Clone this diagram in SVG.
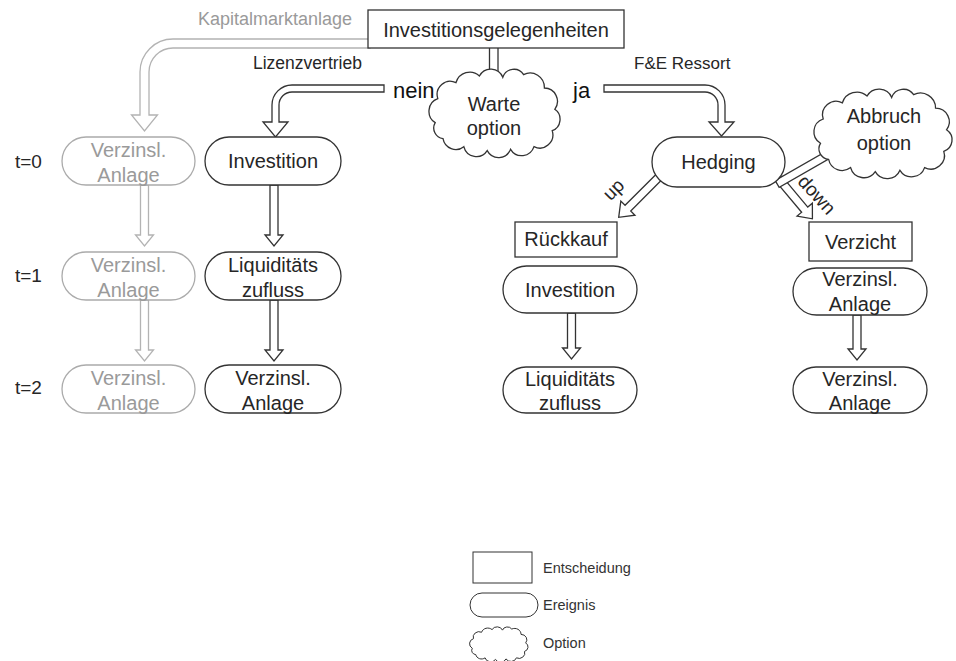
<svg xmlns="http://www.w3.org/2000/svg" width="956" height="661" viewBox="0 0 956 661">
<style>
.node{fill:#fff;stroke:#333;stroke-width:1.3}
.gnode{fill:#fff;stroke:#ababab;stroke-width:1.3}
.arr{fill:#fff;stroke:#333;stroke-width:1.3;stroke-linejoin:miter}
.garr{fill:#fff;stroke:#b3b3b3;stroke-width:1.3}
text{font-family:'Liberation Sans',Arial,sans-serif;fill:#262626}
.t{font-size:20px;text-anchor:middle}
.g{fill:#9a9a9a}
.lbl{font-size:17.5px}
.big{font-size:22px;fill:#111}
.leg{font-size:14.5px;fill:#333}
</style>
<defs>
<path id="cloud" vector-effect="non-scaling-stroke" d="M4,38 A10,10 0 0 1 6,20 A10,10 0 0 1 20,8 A11,11 0 0 1 38,3 A10,10 0 0 1 56,4 A9,9 0 0 1 72,2 A11,11 0 0 1 88,12 A10,10 0 0 1 96,28 A9,9 0 0 1 94,44 A10,10 0 0 1 80,56 A10,10 0 0 1 62,58 A10,10 0 0 1 44,59 A10,10 0 0 1 26,56 A10,10 0 0 1 10,50 A8,8 0 0 1 4,38 Z"/>
</defs>
<rect width="956" height="661" fill="#fff"/>

<g id="connectors">
  <path class="garr" d="M370,39 H173 A33,33 0 0 0 140,72 V115 H131.5 L144.5,131 L157.5,115 H149 V72 A24,24 0 0 1 173,48 H370 Z"/>
  <rect class="arr" x="489.5" y="46" width="8.5" height="38"/>
  <path class="arr" d="M384,85 H292 A20,20 0 0 0 272,105 V122 H263 L275.5,137 L288,122 H279 V105 A13,13 0 0 1 292,92 H384 Z"/>
  <path class="arr" d="M604,85 H705 A20,20 0 0 1 725,105 V122 H734 L721.5,136 L709,122 H718 V105 A13,13 0 0 0 705,92 H604 Z"/>
  <path class="garr" d="M140.5,185 V235 H135.5 L144.5,246 L153.5,235 H148.5 V185 Z"/>
  <path class="garr" d="M140.5,300 V350 H135.5 L144.5,361 L153.5,350 H148.5 V300 Z"/>
  <path class="arr" d="M270,185 V235 H265 L274,246 L283,235 H278 V185 Z"/>
  <path class="arr" d="M270,300 V350 H265 L274,361 L283,350 H278 V300 Z"/>
  <path class="arr" transform="translate(659,177) rotate(45)" d="M-4,0 V44 H-10 L0,57 L10,44 H4 V0 Z"/>
  <path class="arr" transform="translate(779,179) rotate(-40)" d="M-4,0 V40 H-10 L0,52 L10,40 H4 V0 Z"/>
  <rect class="arr" x="-28" y="-4" width="56" height="8" transform="translate(801.5,170) rotate(-29.7)"/>
  <path class="arr" d="M567.5,313 V348 H562.5 L571.5,359 L580.5,348 H575.5 V313 Z"/>
  <path class="arr" d="M853,315 V349 H848 L857,360 L866,349 H861 V315 Z"/>
</g>

<g id="n-investitionsgelegenheiten">
  <rect class="node" x="368" y="10" width="256" height="38"/>
  <text class="t" x="496" y="37">Investitionsgelegenheiten</text>
</g>
<g id="n-warteoption">
  <use href="#cloud" transform="translate(430,72) scale(1.3,1.333)" fill="#fff" stroke="#333" stroke-width="1.3"/>
  <text class="t" x="494" y="111">Warte</text>
  <text class="t" x="494" y="135">option</text>
</g>
<g id="n-abbruchoption">
  <use href="#cloud" transform="translate(815,92) scale(1.37,1.35)" fill="#fff" stroke="#333" stroke-width="1.3"/>
  <text class="t" x="884" y="123">Abbruch</text>
  <text class="t" x="884" y="150">option</text>
</g>

<g id="n-g1"><rect class="gnode" x="62" y="137" width="133" height="48" rx="24"/><text class="t g" x="128.5" y="157">Verzinsl.</text><text class="t g" x="128.5" y="182">Anlage</text></g>
<g id="n-g2"><rect class="gnode" x="62" y="252" width="133" height="48" rx="24"/><text class="t g" x="128.5" y="272">Verzinsl.</text><text class="t g" x="128.5" y="297">Anlage</text></g>
<g id="n-g3"><rect class="gnode" x="62" y="365" width="133" height="48" rx="24"/><text class="t g" x="128.5" y="385">Verzinsl.</text><text class="t g" x="128.5" y="410">Anlage</text></g>

<g id="n-b1"><rect class="node" x="205" y="137" width="136" height="48" rx="24"/><text class="t" x="273" y="168">Investition</text></g>
<g id="n-b2"><rect class="node" x="205" y="252" width="136" height="48" rx="24"/><text class="t" x="273" y="272">Liquiditäts</text><text class="t" x="273" y="297">zufluss</text></g>
<g id="n-b3"><rect class="node" x="205" y="365" width="136" height="48" rx="24"/><text class="t" x="273" y="385">Verzinsl.</text><text class="t" x="273" y="410">Anlage</text></g>

<g id="n-hedging"><rect class="node" x="652" y="137" width="133" height="50" rx="25"/><text class="t" x="718.5" y="169">Hedging</text></g>

<g id="n-rueckkauf"><rect class="node" x="515" y="222" width="102" height="35"/><text class="t" x="566" y="246">Rückkauf</text></g>
<g id="n-r-investition"><rect class="node" x="503" y="266" width="134" height="47" rx="23.5"/><text class="t" x="570" y="297">Investition</text></g>
<g id="n-r-liquiditaet"><rect class="node" x="503" y="367" width="134" height="46" rx="23"/><text class="t" x="570" y="386">Liquiditäts</text><text class="t" x="570" y="410">zufluss</text></g>

<g id="n-verzicht"><rect class="node" x="809" y="222" width="103" height="39"/><text class="t" x="860.5" y="249">Verzicht</text></g>
<g id="n-r-verzinsl1"><rect class="node" x="793" y="268" width="134" height="47" rx="23.5"/><text class="t" x="860" y="286">Verzinsl.</text><text class="t" x="860" y="311">Anlage</text></g>
<g id="n-r-verzinsl2"><rect class="node" x="793" y="367" width="134" height="46" rx="23"/><text class="t" x="860" y="386">Verzinsl.</text><text class="t" x="860" y="410">Anlage</text></g>

<g id="labels">
  <text class="lbl g" x="198" y="25" style="font-size:18px">Kapitalmarktanlage</text>
  <text class="lbl" x="253" y="69">Lizenzvertrieb</text>
  <text class="lbl" x="634" y="69" style="font-size:17px">F&amp;E Ressort</text>
  <text class="big" x="393" y="98">nein</text>
  <text class="big" x="573" y="98">ja</text>
  <text class="lbl" text-anchor="middle" style="font-size:19px" transform="translate(618,194) rotate(-45)">up</text>
  <text class="lbl" text-anchor="middle" style="font-size:19px" transform="translate(812,199) rotate(48)">down</text>
  <text x="15" y="168" style="font-size:19px">t=0</text>
  <text x="15" y="282" style="font-size:19px">t=1</text>
  <text x="15" y="394" style="font-size:19px">t=2</text>
</g>

<g id="legend">
  <rect class="node" x="473" y="552" width="59" height="31" style="stroke-width:1"/>
  <text class="leg" x="543" y="573">Entscheidung</text>
  <rect class="node" x="470" y="593" width="68" height="24" rx="12" style="stroke-width:1"/>
  <text class="leg" x="543" y="610">Ereignis</text>
  <use href="#cloud" transform="translate(470,628) scale(0.58,0.533)" fill="#fff" stroke="#333" stroke-width="1"/>
  <text class="leg" x="543" y="648">Option</text>
</g>
</svg>
